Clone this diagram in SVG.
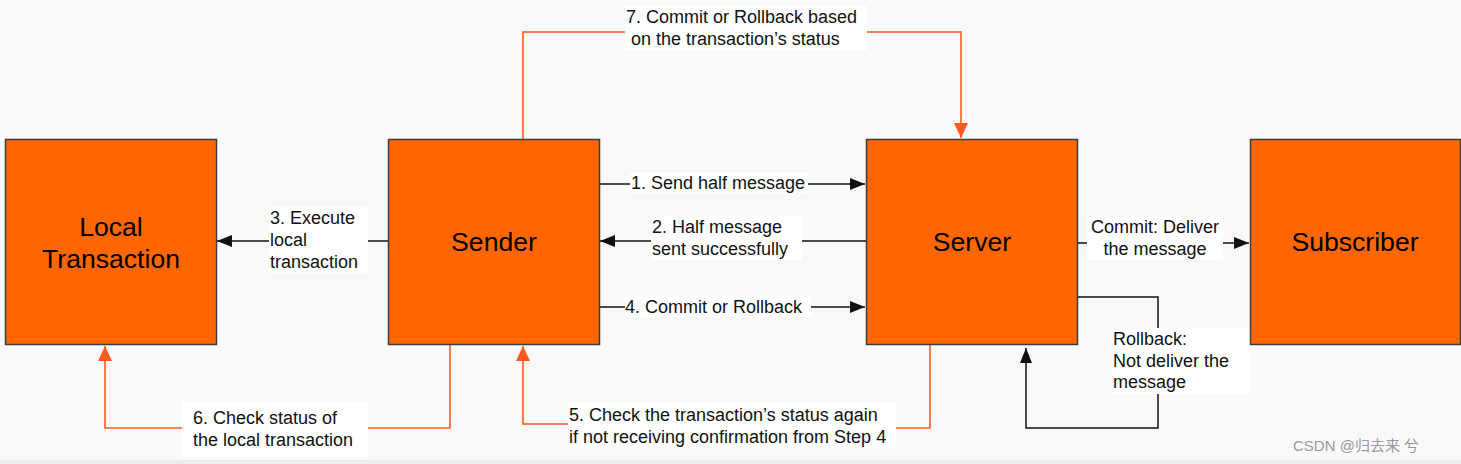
<svg xmlns="http://www.w3.org/2000/svg" width="1461" height="464" viewBox="0 0 1461 464">
<style>
.node{fill:#ff6600;stroke:#3d3d3d;stroke-width:1.5}
.big{font-family:"Liberation Sans",Arial,sans-serif;font-size:26.6px;fill:#000;text-anchor:middle}
.lbl{font-family:"Liberation Sans",Arial,sans-serif;font-size:18px;fill:#111}
.bg{fill:#ffffff}
.blk{fill:none;stroke:#111;stroke-width:1.5}
.org{fill:none;stroke:#ff5a1c;stroke-width:1.6}
.wm{font-family:"Liberation Sans","Noto Sans CJK SC",sans-serif;font-size:15px;fill:#9a9a9a}
</style>
<defs>
<marker id="ab" markerWidth="16" markerHeight="12" refX="15" refY="6" orient="auto" markerUnits="userSpaceOnUse"><path d="M0,0 L15,6 L0,12 Z" fill="#111"/></marker>
<marker id="ao" markerWidth="16" markerHeight="14" refX="15" refY="7" orient="auto" markerUnits="userSpaceOnUse"><path d="M0,0 L15,7 L0,14 Z" fill="#ff5a1c"/></marker>
</defs>
<rect x="0" y="0" width="1461" height="464" fill="#f9f9f9"/>
<rect x="0" y="460" width="1461" height="4" fill="#eeeeee"/>
<g id="connectors">
<polyline class="org" points="523,139 523,32 961,32 961,138" marker-end="url(#ao)"/>
<line class="blk" x1="599" y1="184" x2="865" y2="184" marker-end="url(#ab)"/>
<line class="blk" x1="866" y1="241" x2="600" y2="241" marker-end="url(#ab)"/>
<line class="blk" x1="599" y1="307" x2="865" y2="307" marker-end="url(#ab)"/>
<line class="blk" x1="388" y1="241" x2="217" y2="241" marker-end="url(#ab)"/>
<polyline class="org" points="450,345 450,428 105,428 105,346" marker-end="url(#ao)"/>
<polyline class="org" points="930,345 930,428 740,428 740,424 523,424 523,346" marker-end="url(#ao)"/>
<line class="blk" x1="1077" y1="243" x2="1249" y2="243" marker-end="url(#ab)"/>
<polyline class="blk" points="1077,297 1158,297 1158,428 1026,428 1026,348" marker-end="url(#ab)"/>
</g>
<g id="labels">
<rect class="bg" x="625" y="6" width="242" height="44"/>
<text class="lbl" x="626" y="23">7. Commit or Rollback based</text>
<text class="lbl" x="631" y="45">on the transaction’s status</text>
<rect class="bg" x="630" y="173" width="178" height="20"/>
<text class="lbl" x="631" y="189">1. Send half message</text>
<rect class="bg" x="651" y="216" width="151" height="44"/>
<text class="lbl" x="652" y="233">2. Half message</text>
<text class="lbl" x="652" y="255">sent successfully</text>
<rect class="bg" x="625" y="296" width="186" height="21"/>
<text class="lbl" x="625" y="313">4. Commit or Rollback</text>
<rect class="bg" x="269" y="207" width="99" height="66"/>
<text class="lbl" x="270" y="224">3. Execute</text>
<text class="lbl" x="270" y="246">local</text>
<text class="lbl" x="270" y="268">transaction</text>
<rect class="bg" x="182" y="401" width="186" height="56"/>
<text class="lbl" x="193" y="424">6. Check status of</text>
<text class="lbl" x="193" y="446">the local transaction</text>
<rect class="bg" x="568" y="403" width="328" height="45"/>
<text class="lbl" x="569" y="421">5. Check the transaction’s status again</text>
<text class="lbl" x="569" y="443">if not receiving confirmation from Step 4</text>
<rect class="bg" x="1087" y="217" width="136" height="43"/>
<text class="lbl" x="1155" y="233" text-anchor="middle">Commit: Deliver</text>
<text class="lbl" x="1155" y="255" text-anchor="middle">the message</text>
<rect class="bg" x="1112" y="328" width="138" height="66"/>
<text class="lbl" x="1113" y="345">Rollback:</text>
<text class="lbl" x="1113" y="367">Not deliver the</text>
<text class="lbl" x="1113" y="388">message</text>
</g>
<g id="local-transaction">
<rect class="node" x="5.5" y="139.5" width="211" height="205"/>
<text class="big" x="111" y="236">Local</text>
<text class="big" x="111" y="268">Transaction</text>
</g>
<g id="sender">
<rect class="node" x="388.5" y="139.5" width="211" height="205"/>
<text class="big" x="494" y="251">Sender</text>
</g>
<g id="server">
<rect class="node" x="866.5" y="139.5" width="211" height="205"/>
<text class="big" x="972" y="251">Server</text>
</g>
<g id="subscriber">
<rect class="node" x="1250.5" y="139.5" width="210" height="205"/>
<text class="big" x="1355" y="251">Subscriber</text>
</g>
<text class="wm" x="1293" y="451">CSDN @归去来 兮</text>
</svg>
